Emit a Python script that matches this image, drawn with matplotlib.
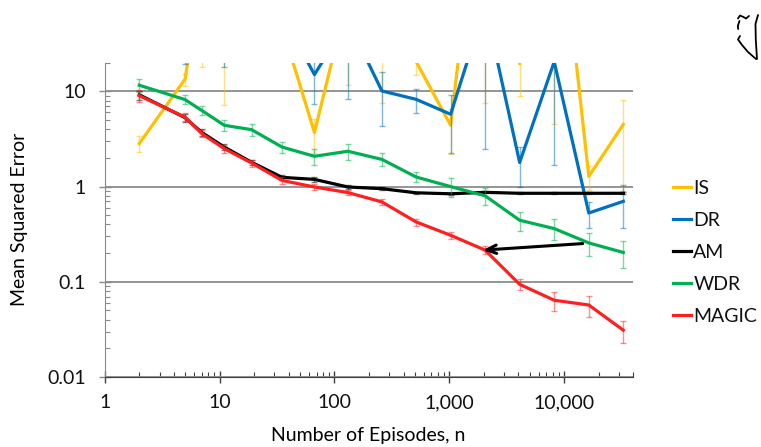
import numpy as np
import matplotlib
matplotlib.use("Agg")
import matplotlib.pyplot as plt
from matplotlib.ticker import LogLocator, FixedLocator, FuncFormatter, NullFormatter
from matplotlib.lines import Line2D

# ---- data -------------------------------------------------------------
episodes = [2, 5, 7, 11, 19, 35, 67, 131, 259, 515, 1027, 2051, 4099, 8195, 16387, 32771]

is_mse = [2.83, 13.4, 170, 90, 120, 48, 3.7, 100, 150, 20.5, 4.4, 5000, 19.5, 2500, 1.28, 4.5]
is_err = [0.53, 2.0, 152, 82.75, 60, 20, 1.45, 88.2, 142.4, 5.7, 2.2, 4992.5, 10.6, 2495.5, 0.36, 3.6]

dr_mse = [60, 45, 80, 50, 70, 64, 15.0, 55, 10.1, 8.24, 5.75, 80, 1.79, 20.5, 0.528, 0.70]
dr_err = [20, 25.7, 30, 32, 30, 30, 7.7, 46.6, 5.8, 2.3, 3.5, 77.5, 0.8, 18.8, 0.16, 0.33]

am_mse = [9.2, 5.3, 3.7, 2.6, 1.8, 1.25, 1.19, 0.99, 0.95, 0.86, 0.84, 0.87, 0.85, 0.85, 0.85, 0.85]
am_err = [1.0, 0.5, 0.3, 0.2, 0.12, 0.08, 0.08, 0.04, 0.03, 0.02, 0.02, 0.02, 0.02, 0.02, 0.02, 0.02]

wdr_mse = [11.6, 8.2, 6.3, 4.4, 3.96, 2.6, 2.08, 2.35, 1.93, 1.26, 1.0, 0.80, 0.443, 0.362, 0.256, 0.203]
wdr_err = [1.8, 0.9, 0.7, 0.55, 0.55, 0.35, 0.38, 0.45, 0.3, 0.15, 0.22, 0.16, 0.1, 0.09, 0.07, 0.065]

magic_mse = [9.0, 5.37, 3.6, 2.5, 1.77, 1.16, 0.99, 0.865, 0.69, 0.425, 0.308, 0.215, 0.094, 0.064, 0.057, 0.031]
magic_err = [1.3, 0.5, 0.3, 0.25, 0.15, 0.1, 0.08, 0.05, 0.05, 0.035, 0.025, 0.02, 0.012, 0.015, 0.014, 0.008]

series_names = ["IS", "DR", "AM", "WDR", "MAGIC"]
series_colors = ["#FFC000", "#0070C0", "#000000", "#00B050", "#FF1F1F"]

x_label = "Number of Episodes, n"
y_label = "Mean Squared Error"

# ---- figure -------------------------------------------------------------
plt.rcParams['font.family'] = ['Lato', 'DejaVu Sans']
plt.rcParams['text.color'] = '#111111'
plt.rcParams['xtick.labelcolor'] = '#111111'
plt.rcParams['ytick.labelcolor'] = '#111111'
FS = 14

W, H = 761, 447
fig = plt.figure(figsize=(W / 100, H / 100), dpi=100)
ax = fig.add_axes([104.7 / W, 1 - 377 / H, (633.3 - 104.7) / W, (377 - 62.7) / H])
ax.set_xscale('log')
ax.set_yscale('log')
ax.set_xlim(1, 40000)
ax.set_ylim(0.01, 20)

ax.yaxis.grid(True, which='major', color='#8c8c8c', lw=1.3, zorder=0)
ax.set_axisbelow(True)

for sp in ('top', 'right'):
    ax.spines[sp].set_visible(False)
ax.spines['left'].set_color('#8a8a8a')
ax.spines['bottom'].set_color('#404040')

ax.xaxis.set_major_locator(FixedLocator([1, 10, 100, 1000, 10000]))
ax.xaxis.set_minor_locator(LogLocator(base=10, subs=np.arange(2, 10)))
ax.xaxis.set_minor_formatter(NullFormatter())
ax.xaxis.set_major_formatter(FuncFormatter(lambda v, p: f"{v:,.0f}"))

ax.yaxis.set_major_locator(FixedLocator([0.01, 0.1, 1, 10]))
ax.yaxis.set_minor_locator(LogLocator(base=10, subs=np.arange(2, 10)))
ax.yaxis.set_minor_formatter(NullFormatter())
ax.yaxis.set_major_formatter(FuncFormatter(lambda v, p: f"{v:g}"))

ax.tick_params(axis='x', which='major', direction='inout', length=8, width=1,
               color='#404040', pad=8.5, labelsize=FS)
ax.tick_params(axis='x', which='minor', direction='in', length=3.5, width=0.8, color='#404040')
ax.tick_params(axis='y', which='major', direction='inout', length=9, width=1,
               color='#8a8a8a', pad=9, labelsize=FS)
ax.tick_params(axis='y', which='minor', direction='in', length=3.5, width=0.8, color='#8a8a8a')

all_vals = [is_mse, dr_mse, am_mse, wdr_mse, magic_mse]
all_errs = [is_err, dr_err, am_err, wdr_err, magic_err]
handles = []
for k, (name, col, vals, errs) in enumerate(zip(series_names, series_colors, all_vals, all_errs)):
    ax.errorbar(episodes, vals, yerr=errs, fmt='none', ecolor=col, alpha=0.5,
                elinewidth=1, capsize=2.5, capthick=1, zorder=2 + k)
    h, = ax.plot(episodes, vals, color=col, lw=2.3, solid_joinstyle='round',
                 label=name, zorder=2.5 + k)
    handles.append(h)

ax.set_xlabel(x_label, fontsize=FS)
ax.set_ylabel(y_label, fontsize=FS)
ax.xaxis.set_label_coords(0.498, -0.158)
ax.yaxis.set_label_coords(-0.146, 0.5)

leg = fig.legend(handles=handles, loc='upper left', bbox_to_anchor=(673 / W, 1 - 179.5 / H),
                 frameon=False, fontsize=FS, handlelength=0.9, handletextpad=0.15,
                 labelspacing=0.78, borderpad=0, borderaxespad=0)

# hand-drawn comparison arrow between MAGIC at ~2k episodes and WDR at ~16k
ax.annotate('', xy=(1960, 0.215), xytext=(14500, 0.252),
            arrowprops=dict(arrowstyle='->,head_length=0.7,head_width=0.3',
                            color='black', lw=2.2, shrinkA=0, shrinkB=0), zorder=10)

# hand-written mark in the top-right corner
def px(pts):
    xs = [p[0] / W for p in pts]
    ys = [1 - p[1] / H for p in pts]
    return xs, ys

strokes = [
    [(738, 18.5), (740, 15.5), (743.5, 17), (746, 18.5), (749, 16)],
    [(739.5, 21), (737.8, 26), (738.2, 29)],
    [(740, 36), (738, 39.5), (742, 45), (748, 52), (756, 59)],
    [(758, 15), (755.5, 24), (755.8, 40), (757, 59)],
]
for s in strokes:
    xs, ys = px(s)
    fig.add_artist(Line2D(xs, ys, color='black', lw=1.3, solid_capstyle='round',
                          solid_joinstyle='round'))

fig.savefig("out.png", dpi=100)
